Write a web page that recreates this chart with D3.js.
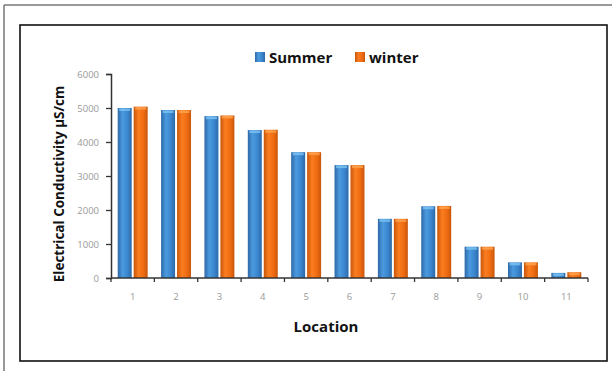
<!DOCTYPE html>
<html>
<head>
<meta charset="utf-8">
<script src="https://cdn.jsdelivr.net/npm/d3@7"></script>
<style>
  html, body { margin: 0; padding: 0; background: #fff; }
  svg { display: block; }
</style>
</head>
<body>
<script>
// Electrical conductivity by sampling location, summer vs winter
const locations = ["1", "2", "3", "4", "5", "6", "7", "8", "9", "10", "11"];
const summer = [5000, 4940, 4760, 4350, 3700, 3320, 1740, 2110, 920, 460, 150];
const winter = [5040, 4940, 4780, 4360, 3700, 3320, 1740, 2120, 920, 460, 170];
const seriesNames = ["Summer", "winter"];
const yTicks = [0, 1000, 2000, 3000, 4000, 5000, 6000];

const W = 612, H = 371;
const svg = d3.select("body").append("svg").attr("width", W).attr("height", H);

const defs = svg.append("defs");
function barGradient(id, edge, mid, light) {
  const g = defs.append("linearGradient").attr("id", id)
    .attr("x1", "0%").attr("x2", "100%").attr("y1", "0%").attr("y2", "0%");
  g.append("stop").attr("offset", "0%").attr("stop-color", edge);
  g.append("stop").attr("offset", "35%").attr("stop-color", light);
  g.append("stop").attr("offset", "70%").attr("stop-color", mid);
  g.append("stop").attr("offset", "100%").attr("stop-color", edge);
}
barGradient("gBlue", "#2d68a8", "#3a86cf", "#4b9ade");
barGradient("gOrange", "#c8560a", "#ef6c12", "#fb7d20");

// outer page frame
svg.append("line").attr("x1", 4).attr("x2", W).attr("y1", 5).attr("y2", 5)
  .attr("stroke", "#777").attr("stroke-width", 1.5);
svg.append("line").attr("x1", 4).attr("x2", 4).attr("y1", 5).attr("y2", H)
  .attr("stroke", "#777").attr("stroke-width", 1.5);

// chart box
svg.append("rect").attr("x", 20).attr("y", 25).attr("width", 587).attr("height", 336)
  .attr("fill", "#fff").attr("stroke", "#111").attr("stroke-width", 1.6);

const plot = { left: 111, right: 588, top: 74, bottom: 278 };

const x = d3.scaleBand().domain(locations).range([plot.left, plot.right]).paddingInner(0).paddingOuter(0);
const y = d3.scaleLinear().domain([0, 6000]).range([plot.bottom, plot.top]);
const xs = d3.scaleBand().domain(seriesNames).range([0, x.bandwidth()]).paddingInner(0.125).paddingOuter(0.42);

const rows = locations.map((loc, i) => ({ loc, vals: [summer[i], winter[i]] }));

const groups = svg.append("g").selectAll("g").data(rows).join("g")
  .attr("transform", d => `translate(${x(d.loc)},0)`);

const fills = ["url(#gBlue)", "url(#gOrange)"];
const caps = ["#7cc3f0", "#ffa550"];
groups.selectAll("rect.bar").data(d => d.vals.map((v, k) => ({ v, k })))
  .join("rect").attr("class", "bar")
  .attr("x", d => xs(seriesNames[d.k]))
  .attr("width", xs.bandwidth())
  .attr("y", d => y(d.v))
  .attr("height", d => y(0) - y(d.v))
  .attr("fill", d => fills[d.k]);
// glossy top cap on each bar
groups.selectAll("rect.cap").data(d => d.vals.map((v, k) => ({ v, k })))
  .join("rect").attr("class", "cap")
  .attr("x", d => xs(seriesNames[d.k]) + 1.5)
  .attr("width", xs.bandwidth() - 3)
  .attr("y", d => y(d.v) + 0.5)
  .attr("height", 2.5)
  .attr("fill", d => caps[d.k])
  .attr("opacity", 0.8);

// y axis
const yAxis = svg.append("g").attr("transform", `translate(${plot.left},0)`)
  .call(d3.axisLeft(y).tickValues(yTicks).tickSize(5).tickPadding(7).tickFormat(d3.format("d")));
yAxis.select(".domain").attr("stroke", "#333").attr("stroke-width", 1.5);
yAxis.selectAll(".tick line").attr("stroke", "#333").attr("stroke-width", 1.3);
yAxis.selectAll("text").attr("fill", "#999").attr("font-size", 9.5)
  .attr("font-family", "Open Sans, Liberation Sans, sans-serif");

// x axis with ticks between categories
const xAxisG = svg.append("g").attr("transform", `translate(0,${plot.bottom})`);
xAxisG.append("line").attr("x1", plot.left).attr("x2", plot.right).attr("y1", 0).attr("y2", 0)
  .attr("stroke", "#333").attr("stroke-width", 1.5);
const boundaries = locations.map(l => x(l)).concat([plot.right]);
xAxisG.selectAll("line.tk").data(boundaries).join("line").attr("class", "tk")
  .attr("x1", d => d).attr("x2", d => d).attr("y1", 0).attr("y2", 4)
  .attr("stroke", "#333").attr("stroke-width", 1.3);
xAxisG.selectAll("text").data(locations).join("text")
  .attr("x", d => x(d) + x.bandwidth() / 2).attr("y", 22)
  .attr("text-anchor", "middle").attr("fill", "#999").attr("font-size", 9.5)
  .attr("font-family", "Open Sans, Liberation Sans, sans-serif")
  .text(d => d);

// axis titles
svg.append("text").attr("transform", `translate(64,${(plot.top + plot.bottom) / 2 + 8}) rotate(-90)`)
  .attr("text-anchor", "middle").attr("font-weight", "bold").attr("font-size", 13.5)
  .attr("fill", "#111").attr("font-family", "Open Sans, Liberation Sans, sans-serif")
  .text("Electrical Conductivity µS/cm");
svg.append("text").attr("x", 326).attr("y", 332)
  .attr("text-anchor", "middle").attr("font-weight", "bold").attr("font-size", 15)
  .attr("fill", "#111").attr("font-family", "Open Sans, Liberation Sans, sans-serif")
  .text("Location");

// legend
const legend = svg.append("g");
const legendItems = [
  { name: seriesNames[0], fill: fills[0], x: 255 },
  { name: seriesNames[1], fill: fills[1], x: 355 }
];
legendItems.forEach(it => {
  legend.append("rect").attr("x", it.x).attr("y", 52).attr("width", 10).attr("height", 10)
    .attr("fill", it.fill);
  legend.append("text").attr("x", it.x + 14).attr("y", 62.5)
    .attr("font-weight", "bold").attr("font-size", 15).attr("fill", "#111")
    .attr("font-family", "Open Sans, Liberation Sans, sans-serif")
    .text(it.name);
});
</script>
</body>
</html>
